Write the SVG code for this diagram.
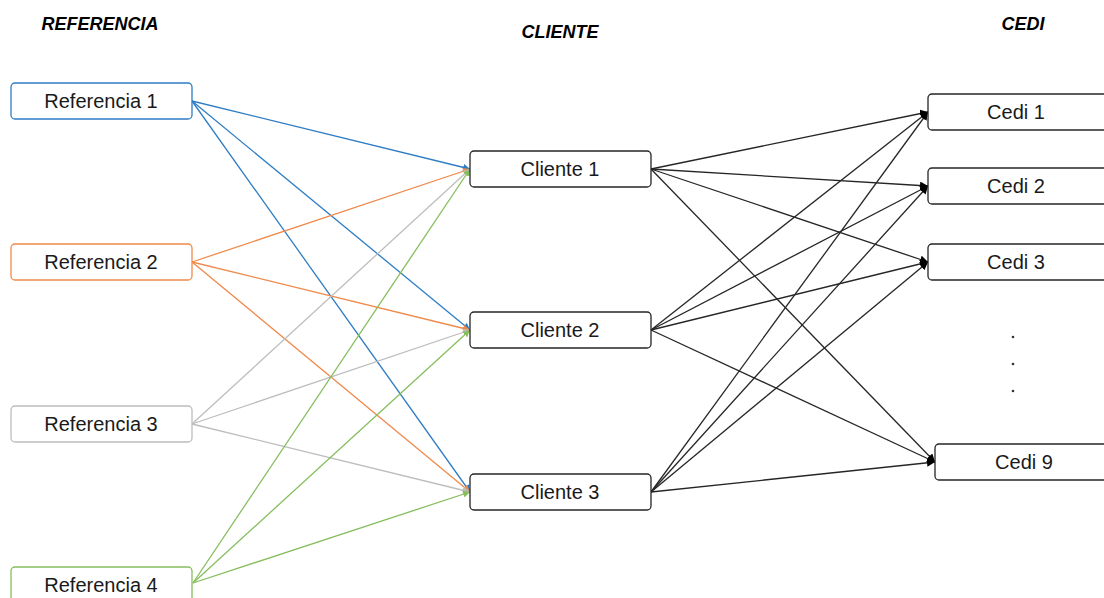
<svg xmlns="http://www.w3.org/2000/svg" width="1104" height="598" viewBox="0 0 1104 598">
<style>
.t{font-family:"Liberation Sans",Arial,sans-serif;font-size:20px;fill:#1a1a1a;text-anchor:middle}
.h{font-family:"Liberation Sans",Arial,sans-serif;font-size:18px;font-weight:bold;font-style:italic;fill:#000;text-anchor:middle}
.box{fill:#fff;stroke-width:1.3}
.k{stroke:#262626}
.c{fill:none;stroke-width:1.3}
</style>
<defs>
<marker id="ab" viewBox="0 0 10 10" refX="10" refY="5" markerWidth="7" markerHeight="7" orient="auto" markerUnits="userSpaceOnUse"><path d="M0,0L10,5L0,10z" fill="#2E7DC4"/></marker>
<marker id="ao" viewBox="0 0 10 10" refX="10" refY="5" markerWidth="7" markerHeight="7" orient="auto" markerUnits="userSpaceOnUse"><path d="M0,0L10,5L0,10z" fill="#F08A4B"/></marker>
<marker id="ag" viewBox="0 0 10 10" refX="10" refY="5" markerWidth="7" markerHeight="7" orient="auto" markerUnits="userSpaceOnUse"><path d="M0,0L10,5L0,10z" fill="#BDBDBD"/></marker>
<marker id="av" viewBox="0 0 10 10" refX="10" refY="5" markerWidth="7" markerHeight="7" orient="auto" markerUnits="userSpaceOnUse"><path d="M0,0L10,5L0,10z" fill="#86BE5E"/></marker>
<marker id="ak" viewBox="0 0 10 10" refX="10" refY="5" markerWidth="8" markerHeight="8" orient="auto" markerUnits="userSpaceOnUse"><path d="M0,0L10,5L0,10z" fill="#000"/></marker>
</defs>
<text class="h" x="100" y="30">REFERENCIA</text>
<text class="h" x="560" y="38">CLIENTE</text>
<text class="h" x="1023" y="30">CEDI</text>
<g id="connectors">
<g stroke="#2E7DC4" class="c" marker-end="url(#ab)">
<line x1="192" y1="101" x2="470" y2="169"/>
<line x1="192" y1="101" x2="470" y2="330"/>
<line x1="192" y1="101" x2="470" y2="492"/>
</g>
<g stroke="#F08A4B" class="c" marker-end="url(#ao)">
<line x1="192" y1="262" x2="470" y2="169"/>
<line x1="192" y1="262" x2="470" y2="330"/>
<line x1="192" y1="262" x2="470" y2="492"/>
</g>
<g stroke="#BDBDBD" class="c" marker-end="url(#ag)">
<line x1="192" y1="424" x2="470" y2="169"/>
<line x1="192" y1="424" x2="470" y2="330"/>
<line x1="192" y1="424" x2="470" y2="492"/>
</g>
<g stroke="#86BE5E" class="c" marker-end="url(#av)">
<line x1="193" y1="583" x2="470" y2="169"/>
<line x1="193" y1="583" x2="470" y2="330"/>
<line x1="193" y1="583" x2="470" y2="492"/>
</g>
<g stroke="#262626" class="c" marker-end="url(#ak)">
<line x1="651" y1="169" x2="928" y2="112"/>
<line x1="651" y1="169" x2="928" y2="186"/>
<line x1="651" y1="169" x2="928" y2="262"/>
<line x1="651" y1="169" x2="935" y2="462"/>
<line x1="651" y1="330" x2="928" y2="112"/>
<line x1="651" y1="330" x2="928" y2="186"/>
<line x1="651" y1="330" x2="928" y2="262"/>
<line x1="651" y1="330" x2="935" y2="462"/>
<line x1="651" y1="492" x2="928" y2="112"/>
<line x1="651" y1="492" x2="928" y2="186"/>
<line x1="651" y1="492" x2="928" y2="262"/>
<line x1="651" y1="492" x2="935" y2="462"/>
</g>
</g>
<g id="ref1"><rect class="box" x="11" y="83" width="181" height="36" rx="4" stroke="#2E7DC4"/><text class="t" x="101" y="108">Referencia 1</text></g>
<g id="ref2"><rect class="box" x="11" y="244" width="181" height="36" rx="4" stroke="#F08A4B"/><text class="t" x="101" y="269">Referencia 2</text></g>
<g id="ref3"><rect class="box" x="11" y="406" width="181" height="36" rx="4" stroke="#BDBDBD"/><text class="t" x="101" y="431">Referencia 3</text></g>
<g id="ref4"><rect class="box" x="11" y="567" width="181" height="36" rx="4" stroke="#86BE5E"/><text class="t" x="101" y="592">Referencia 4</text></g>
<g id="cli1"><rect class="box k" x="470" y="151" width="181" height="36" rx="4"/><text class="t" x="560" y="176">Cliente 1</text></g>
<g id="cli2"><rect class="box k" x="470" y="312" width="181" height="36" rx="4"/><text class="t" x="560" y="337">Cliente 2</text></g>
<g id="cli3"><rect class="box k" x="470" y="474" width="181" height="36" rx="4"/><text class="t" x="560" y="499">Cliente 3</text></g>
<g id="cedi1"><rect class="box k" x="928" y="94" width="180" height="36" rx="4"/><text class="t" x="1016" y="119">Cedi 1</text></g>
<g id="cedi2"><rect class="box k" x="928" y="168" width="180" height="36" rx="4"/><text class="t" x="1016" y="193">Cedi 2</text></g>
<g id="cedi3"><rect class="box k" x="928" y="244" width="180" height="36" rx="4"/><text class="t" x="1016" y="269">Cedi 3</text></g>
<g id="dots" fill="#333"><circle cx="1013" cy="337" r="1.3"/><circle cx="1013" cy="364" r="1.3"/><circle cx="1013" cy="391" r="1.3"/></g>
<g id="cedi9"><rect class="box k" x="935" y="444" width="180" height="36" rx="4"/><text class="t" x="1024" y="469">Cedi 9</text></g>
</svg>
